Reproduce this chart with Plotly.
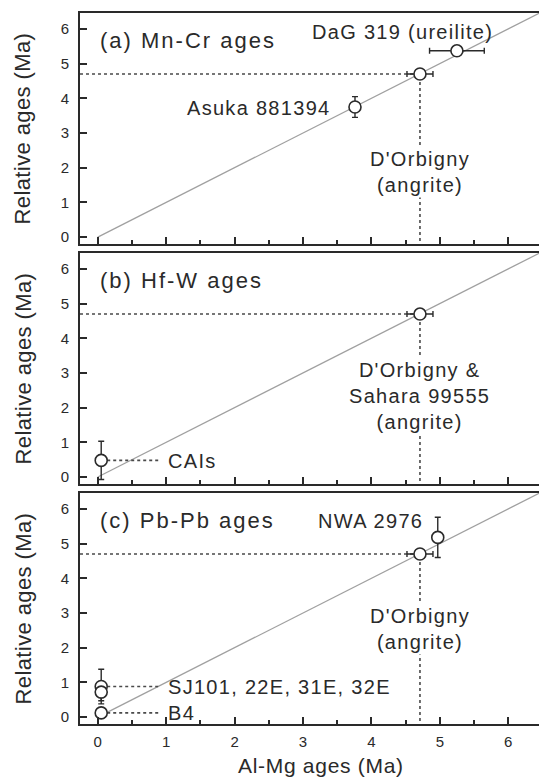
import plotly.graph_objects as go

# Al-Mg age (x) against the relative age from a second chronometer (y), all in Ma.

# (a) Mn-Cr ages
mncr_names = ["D'Orbigny", "Asuka 881394", "DaG 319"]
mncr_almg = [4.71, 3.76, 5.25]
mncr_almg_err = [0.19, 0.0, 0.40]
mncr_age = [4.70, 3.75, 5.37]
mncr_age_err = [0.0, 0.30, 0.0]

# (b) Hf-W ages
hfw_names = ["D'Orbigny & Sahara 99555", "CAIs"]
hfw_almg = [4.71, 0.05]
hfw_almg_err = [0.19, 0.0]
hfw_age = [4.70, 0.48]
hfw_age_err = [0.0, 0.55]

# (c) Pb-Pb ages
pbpb_names = ["D'Orbigny", "NWA 2976", "SJ101", "22E/31E/32E", "B4"]
pbpb_almg = [4.71, 4.97, 0.05, 0.05, 0.05]
pbpb_almg_err = [0.19, 0.0, 0.0, 0.0, 0.0]
pbpb_age = [4.70, 5.18, 0.88, 0.72, 0.12]
pbpb_age_err = [0.12, 0.58, 0.50, 0.25, 0.15]

# 1:1 reference line
equal_ages = [0.0, 7.0]

x_ticks = [0, 1, 2, 3, 4, 5, 6]
y_ticks = [0, 1, 2, 3, 4, 5, 6]
X_RANGE = [-0.26, 6.45]
Y_RANGE = [-0.2, 6.46]

INK = "#2a2a2a"
DOT = "#4a4a4a"
FONT = "Liberation Sans, Arial, Helvetica, sans-serif"


def spaced(text, px):
    lines = text.split("\n")
    return "<br>".join(
        f'<span style="letter-spacing:{px}px">{ln}</span>' for ln in lines
    )


fig = go.Figure()

panels = [
    ("", (mncr_almg, mncr_almg_err, mncr_age, mncr_age_err), [0.6751, 1.0]),
    ("2", (hfw_almg, hfw_almg_err, hfw_age, hfw_age_err), [0.3376, 0.6624]),
    ("3", (pbpb_almg, pbpb_almg_err, pbpb_age, pbpb_age_err), [0.0, 0.3249]),
]

for suffix, (xs, xerr, ys, yerr), dom in panels:
    xa, ya = "x" + suffix, "y" + suffix
    # 1:1 line
    fig.add_trace(go.Scatter(
        x=equal_ages, y=equal_ages, mode="lines",
        line=dict(color="#a0a0a0", width=1.3),
        xaxis=xa, yaxis=ya, hoverinfo="skip", showlegend=False))
    # dotted guides through D'Orbigny (first entry of every panel)
    fig.add_trace(go.Scatter(
        x=[X_RANGE[0], xs[0], xs[0]], y=[ys[0], ys[0], Y_RANGE[0]],
        mode="lines", line=dict(color=DOT, width=1.6, dash="dot"),
        xaxis=xa, yaxis=ya, hoverinfo="skip", showlegend=False))

# leader lines from the CAI points to their labels
LEADER_END = 0.92
fig.add_trace(go.Scatter(
    x=[hfw_almg[1], LEADER_END], y=[hfw_age[1], hfw_age[1]], mode="lines",
    line=dict(color=DOT, width=1.6, dash="dot"), xaxis="x2", yaxis="y2",
    hoverinfo="skip", showlegend=False))
for i in (2, 4):
    fig.add_trace(go.Scatter(
        x=[pbpb_almg[i], LEADER_END], y=[pbpb_age[i], pbpb_age[i]], mode="lines",
        line=dict(color=DOT, width=1.6, dash="dot"), xaxis="x3", yaxis="y3",
        hoverinfo="skip", showlegend=False))

for suffix, (xs, xerr, ys, yerr), dom in panels:
    fig.add_trace(go.Scatter(
        x=xs, y=ys, mode="markers",
        marker=dict(symbol="circle", size=12, color="white",
                    line=dict(color=INK, width=1.6)),
        error_x=dict(type="data", array=xerr, visible=True,
                     color=INK, thickness=1.4, width=3),
        error_y=dict(type="data", array=yerr, visible=True,
                     color=INK, thickness=1.4, width=3),
        xaxis="x" + suffix, yaxis="y" + suffix, showlegend=False))

axis_common = dict(
    showline=True, linewidth=2, linecolor=INK, mirror=True,
    showgrid=False, zeroline=False,
    ticks="inside", ticklen=7, tickwidth=1.5, tickcolor=INK,
    tickfont=dict(family=FONT, size=15, color=INK),
)

layout = dict(
    width=539, height=777,
    margin=dict(l=80, r=0, t=13, b=53),
    paper_bgcolor="white", plot_bgcolor="white",
    font=dict(family=FONT, color=INK),
    showlegend=False,
)
for suffix, _, dom in panels:
    layout["xaxis" + suffix] = dict(
        axis_common, range=X_RANGE, tickvals=x_ticks,
        anchor="y" + suffix, domain=[0, 1],
        showticklabels=(suffix == "3"), ticklabelstandoff=3,
        minor=dict(ticks="inside", ticklen=4, tickwidth=1.5,
                   tickcolor=INK, tick0=0, dtick=0.5),
    )
    layout["yaxis" + suffix] = dict(
        axis_common, range=Y_RANGE, tickvals=y_ticks, mirror=False,
        anchor="x" + suffix, domain=dom, ticklabelstandoff=6,
    )
fig.update_layout(**layout)

ann = []


def note(text, x, y, xref, yref, size=20, ls=1.3, xanchor="center", bg=None):
    d = dict(text=spaced(text, ls), x=x, y=y, xref=xref, yref=yref,
             showarrow=False, xanchor=xanchor, yanchor="middle",
             font=dict(family=FONT, size=size, color=INK), align="center")
    if bg:
        d.update(bgcolor=bg, borderpad=1)
    ann.append(d)


# panel titles and y-axis titles
for suffix, title in (("", "(a) Mn-Cr ages"), ("2", "(b) Hf-W ages"), ("3", "(c) Pb-Pb ages")):
    note(title, 0.0, 5.66, "x" + suffix, "y" + suffix, size=22, ls=2.0, xanchor="left")
    ann.append(dict(
        text=spaced("Relative ages (Ma)", 0.4), textangle=-90,
        x=0, xref="paper", xshift=-57, y=0.5, yref="y" + suffix + " domain",
        showarrow=False, xanchor="center", yanchor="middle",
        font=dict(family=FONT, size=22, color=INK)))

# (a)
note("DaG 319 (ureilite)", 4.46, 5.92, "x", "y")
note("Asuka 881394", 3.43, 3.72, "x", "y", xanchor="right")
note("D'Orbigny\n(angrite)", mncr_almg[0], 1.87, "x", "y", bg="white")
# (b)
note("D'Orbigny &\nSahara 99555\n(angrite)", hfw_almg[0], 2.33, "x2", "y2", bg="white")
note("CAIs", 1.0, 0.45, "x2", "y2", xanchor="left")
# (c)
note("NWA 2976", 3.98, 5.65, "x3", "y3")
note("D'Orbigny\n(angrite)", pbpb_almg[0], 2.54, "x3", "y3", bg="white")
note("SJ101, 22E, 31E, 32E", 1.0, 0.86, "x3", "y3", xanchor="left")
note("B4", 1.0, 0.13, "x3", "y3", xanchor="left")

# x-axis title
ann.append(dict(
    text=spaced("Al-Mg ages (Ma)", 0.7), x=0.526, xref="paper",
    y=0, yref="paper", yshift=-41, showarrow=False,
    xanchor="center", yanchor="middle",
    font=dict(family=FONT, size=21, color=INK)))

fig.update_layout(annotations=ann)
fig.write_html("out.html")
